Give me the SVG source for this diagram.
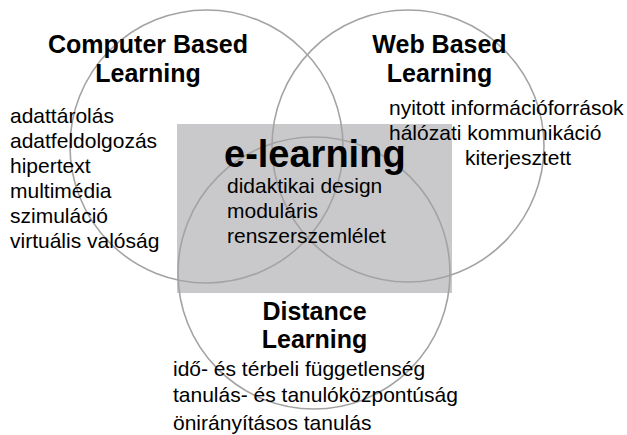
<svg xmlns="http://www.w3.org/2000/svg" width="627" height="435" viewBox="0 0 627 435">
<style>
.c{fill:none;stroke:#a3a3a3;stroke-width:1.6}
.h{font-family:"Liberation Sans",Arial,sans-serif;font-weight:bold;font-size:25px;fill:#000;text-anchor:middle}
.t{font-family:"Liberation Sans",Arial,sans-serif;font-size:21px;fill:#000}
.big{font-family:"Liberation Sans",Arial,sans-serif;font-weight:bold;font-size:38px;fill:#000}
</style>
<rect width="627" height="435" fill="#fff"/>
<g id="elearning">
<rect x="177" y="124" width="275" height="169" fill="#c9c9cb"/>
</g>
<g id="circles">
<circle class="c" cx="206.5" cy="146.5" r="136.5"/>
<circle class="c" cx="408" cy="146" r="136"/>
<circle class="c" cx="314" cy="273" r="136"/>
</g>
<g id="cbl">
<text class="h" x="148" y="53">Computer Based</text>
<text class="h" x="148" y="82">Learning</text>
<text class="t" x="10" y="123">adattárolás</text>
<text class="t" x="10" y="148">adatfeldolgozás</text>
<text class="t" x="10" y="173">hipertext</text>
<text class="t" x="10" y="198">multimédia</text>
<text class="t" x="10" y="223">szimuláció</text>
<text class="t" x="10" y="248">virtuális valóság</text>
</g>
<g id="wbl">
<text class="h" x="439.5" y="53">Web Based</text>
<text class="h" x="439.5" y="82">Learning</text>
<text class="t" x="389" y="115">nyitott információforrások</text>
<text class="t" x="389" y="140">hálózati kommunikáció</text>
<text class="t" x="465" y="165">kiterjesztett</text>
</g>
<g id="el-text">
<text class="big" x="224" y="167">e-learning</text>
<text class="t" x="227" y="193">didaktikai design</text>
<text class="t" x="227" y="218">moduláris</text>
<text class="t" x="227" y="243">renszerszemlélet</text>
</g>
<g id="dl">
<text class="h" x="314.5" y="320">Distance</text>
<text class="h" x="314.5" y="348">Learning</text>
<text class="t" x="173" y="376">idő- és térbeli függetlenség</text>
<text class="t" x="173" y="402">tanulás- és tanulóközpontúság</text>
<text class="t" x="173" y="430">önirányításos tanulás</text>
</g>
</svg>
